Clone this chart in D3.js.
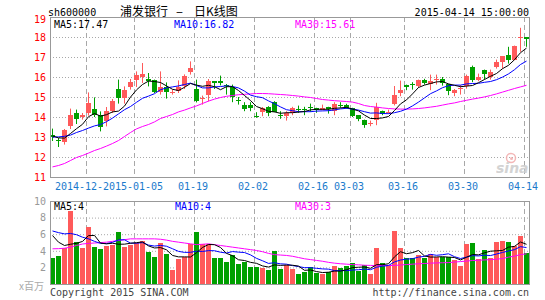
<!DOCTYPE html>
<html><head><meta charset="utf-8">
<script src="https://cdn.jsdelivr.net/npm/d3@7"></script>
<style>body{margin:0;background:#fff}svg{display:block}</style>
</head><body>
<svg id="c" width="545" height="300"></svg>
<script>
const dates = ["2014-12-12","2014-12-15","2014-12-16","2014-12-17","2014-12-18","2014-12-19","2014-12-22","2014-12-23","2014-12-24","2014-12-25","2014-12-26","2014-12-29","2014-12-30","2014-12-31","2015-01-05","2015-01-06","2015-01-07","2015-01-08","2015-01-09","2015-01-12","2015-01-13","2015-01-14","2015-01-15","2015-01-16","2015-01-19","2015-01-20","2015-01-21","2015-01-22","2015-01-23","2015-01-26","2015-01-27","2015-01-28","2015-01-29","2015-01-30","2015-02-02","2015-02-03","2015-02-04","2015-02-05","2015-02-06","2015-02-09","2015-02-10","2015-02-11","2015-02-12","2015-02-13","2015-02-16","2015-02-17","2015-02-25","2015-02-26","2015-02-27","2015-03-02","2015-03-03","2015-03-04","2015-03-05","2015-03-06","2015-03-09","2015-03-10","2015-03-11","2015-03-12","2015-03-13","2015-03-16","2015-03-17","2015-03-18","2015-03-19","2015-03-20","2015-03-23","2015-03-24","2015-03-25","2015-03-26","2015-03-27","2015-03-30","2015-03-31","2015-04-01","2015-04-02","2015-04-03","2015-04-07","2015-04-08","2015-04-09","2015-04-10","2015-04-13","2015-04-14"];
const open = [13.08,12.83,12.73,13.53,14.22,14.0,14.2,14.42,14.12,13.78,14.28,15.4,14.95,15.5,15.87,16.02,15.92,15.87,15.27,15.48,15.22,15.32,15.53,16.25,15.4,14.93,15.12,15.78,15.78,15.6,15.5,14.87,14.62,14.62,14.06,14.26,14.5,14.75,14.1,14.07,14.21,14.38,14.42,14.5,14.46,14.37,14.5,14.3,14.6,14.62,14.46,14.08,13.87,13.67,13.84,14.32,14.24,14.65,15.22,15.6,15.67,15.57,15.87,15.66,15.83,15.91,15.66,15.2,15.41,15.54,16.49,15.85,16.34,16.01,16.5,16.74,17.09,16.87,17.97,18.0];
const high = [13.42,12.95,13.4,14.42,14.37,14.2,15.23,14.98,14.28,14.5,14.9,15.87,15.53,15.9,16.28,16.7,16.2,15.87,16.28,15.73,15.37,15.83,16.13,16.78,15.87,15.07,15.9,15.8,16.07,15.65,15.62,15.0,14.74,14.74,14.24,14.5,14.54,14.79,14.29,14.29,14.51,14.57,14.51,14.67,14.46,14.62,14.51,14.74,14.74,14.66,14.46,14.09,13.87,13.82,14.71,14.32,14.37,15.55,15.82,15.62,15.74,15.87,15.91,16.12,16.12,16.0,15.66,15.4,15.59,16.12,16.57,16.17,16.37,16.37,16.87,17.04,17.51,17.57,18.46,18.0];
const low = [12.8,12.5,12.62,13.4,13.65,13.87,14.07,14.0,13.28,13.53,14.2,14.67,14.67,15.37,15.5,15.7,15.53,15.2,15.12,14.92,15.12,15.2,15.4,16.12,14.73,14.62,14.78,15.4,15.58,15.12,14.74,14.62,14.29,14.29,13.96,14.04,14.04,14.24,13.91,13.82,14.09,14.21,14.09,14.26,14.21,14.34,14.17,14.09,14.46,14.41,14.0,13.79,13.46,13.54,13.59,14.09,14.17,14.58,15.04,15.34,15.37,15.46,15.62,15.34,15.62,15.57,15.09,15.04,15.12,15.42,15.74,15.79,15.87,15.87,16.42,16.42,16.67,16.84,17.26,17.51];
const close = [13.02,12.8,13.33,14.12,13.92,14.12,14.72,14.12,13.48,14.28,14.78,14.95,15.37,15.73,16.08,16.13,15.78,15.27,15.48,15.23,15.27,15.5,16.05,16.45,14.82,14.97,15.78,15.7,15.68,15.55,15.0,14.83,14.42,14.45,14.03,14.46,14.2,14.26,14.08,14.2,14.46,14.36,14.4,14.48,14.34,14.47,14.38,14.65,14.57,14.46,14.04,13.92,13.62,13.7,14.49,14.17,14.27,15.12,15.35,15.5,15.65,15.87,15.71,15.79,15.9,15.71,15.3,15.37,15.44,16.04,15.84,16.0,16.17,16.24,16.74,17.04,16.87,17.54,18.0,17.88];
const volume = [3.17,3.37,4.37,8.83,5.06,4.34,6.87,4.46,4.22,4.62,4.7,6.27,4.5,4.74,4.98,5.14,3.9,3.25,4.98,3.65,1.73,3.05,3.25,4.86,6.27,4.86,4.86,3.17,3.15,2.69,3.49,2.41,2.69,2.09,2.09,1.93,1.69,3.98,1.81,2.29,1.81,1.2,1.45,2.01,1.33,1.2,1.4,2.17,1.97,2.17,2.49,1.61,2.29,1.2,4.34,2.49,2.17,6.43,4.34,3.13,3.13,3.49,3.13,3.61,3.25,3.25,3.25,2.89,2.17,4.82,4.98,3.01,4.1,3.13,5.06,5.18,5.02,4.54,5.78,3.7];
const ma5 = [13.08,12.98,12.97,13.2,13.44,13.66,14.04,14.2,14.07,14.14,14.28,14.32,14.57,15.02,15.38,15.65,15.82,15.8,15.75,15.58,15.41,15.35,15.51,15.7,15.62,15.56,15.61,15.54,15.39,15.54,15.54,15.35,15.1,14.85,14.55,14.44,14.31,14.28,14.21,14.24,14.24,14.27,14.3,14.38,14.41,14.41,14.41,14.46,14.48,14.51,14.42,14.33,14.12,13.95,13.95,13.98,14.05,14.35,14.68,14.88,15.18,15.5,15.62,15.7,15.78,15.8,15.68,15.61,15.54,15.57,15.6,15.74,15.9,16.06,16.2,16.44,16.61,16.89,17.24,17.47];
const ma10 = [13.02,13.03,13.06,13.12,13.25,13.35,13.47,13.58,13.65,13.79,13.97,14.18,14.39,14.55,14.76,14.96,15.07,15.19,15.39,15.48,15.53,15.58,15.65,15.72,15.6,15.48,15.48,15.53,15.55,15.58,15.55,15.48,15.32,15.12,15.04,14.99,14.83,14.69,14.53,14.39,14.34,14.29,14.29,14.29,14.32,14.33,14.34,14.38,14.43,14.46,14.42,14.37,14.29,14.22,14.23,14.2,14.19,14.24,14.31,14.42,14.58,14.77,14.98,15.19,15.33,15.49,15.59,15.62,15.62,15.68,15.7,15.71,15.76,15.8,15.89,16.02,16.18,16.39,16.65,16.82];
const ma30 = [11.53,11.6,11.7,11.85,12.0,12.1,12.22,12.35,12.45,12.57,12.7,12.85,13.05,13.25,13.43,13.55,13.65,13.78,13.95,14.05,14.15,14.28,14.37,14.48,14.58,14.7,14.82,14.92,15.0,15.06,15.1,15.14,15.16,15.18,15.2,15.2,15.19,15.17,15.15,15.13,15.1,15.07,15.03,15.0,14.95,14.9,14.87,14.84,14.82,14.8,14.77,14.7,14.6,14.55,14.52,14.48,14.45,14.43,14.42,14.42,14.43,14.45,14.48,14.52,14.56,14.62,14.68,14.73,14.8,14.86,14.92,14.97,15.03,15.1,15.18,15.27,15.36,15.45,15.53,15.61];
const volMa5 = [5.9,5.1,4.7,4.85,4.96,5.19,5.89,5.91,4.99,4.9,4.97,4.85,4.86,4.97,5.04,5.13,4.65,4.4,4.45,4.18,3.5,3.33,3.33,3.31,3.83,4.46,4.82,4.8,4.46,3.75,3.47,2.98,2.89,2.67,2.55,2.24,2.1,2.36,2.3,2.34,2.32,2.22,1.71,1.75,1.56,1.44,1.48,1.62,1.61,1.78,2.04,2.08,2.11,1.95,2.39,2.39,2.5,3.33,3.95,3.71,3.84,4.1,3.44,3.3,3.32,3.35,3.3,3.25,2.96,3.28,3.62,3.57,3.82,4.01,4.06,4.1,4.5,4.59,5.12,4.84];
const volMa10 = [6.45,6.25,6.1,6.15,6.0,5.7,5.5,5.2,4.95,4.93,5.08,5.37,5.39,4.98,4.97,5.05,4.75,4.63,4.71,4.61,4.31,3.99,3.87,3.88,4.01,3.98,4.08,4.07,3.89,3.79,3.97,3.9,3.85,3.57,3.15,2.86,2.54,2.62,2.49,2.45,2.28,2.16,2.03,2.03,1.95,1.88,1.85,1.67,1.68,1.67,1.74,1.78,1.86,1.78,2.08,2.21,2.29,2.72,2.95,3.05,3.11,3.3,3.39,3.63,3.52,3.59,3.7,3.35,3.13,3.3,3.48,3.44,3.53,3.49,3.67,3.86,4.04,4.2,4.56,4.45];
const volMa30 = [4.3,4.32,4.37,4.5,4.7,4.88,4.95,5.0,5.05,5.1,5.2,5.3,5.4,5.5,5.5,5.5,5.5,5.5,5.45,5.35,5.2,5.1,5.0,4.9,4.8,4.85,4.9,4.8,4.7,4.6,4.5,4.4,4.3,4.2,4.1,3.95,3.75,3.6,3.55,3.5,3.4,3.25,3.1,3.0,2.9,2.8,2.67,2.57,2.5,2.45,2.4,2.37,2.32,2.3,2.28,2.27,2.28,2.3,2.35,2.4,2.45,2.5,2.53,2.57,2.6,2.62,2.64,2.7,2.76,2.82,2.89,2.92,2.96,3.0,3.05,3.12,3.3,3.42,3.6,3.7];
const priceTicks = [11,12,13,14,15,16,17,18,19];
const volTicks = [2,4,6,8,10];
const tickDates = ["2014-12-22","2015-01-05","2015-01-19","2015-02-02","2015-02-16","2015-03-03","2015-03-16","2015-03-30","2015-04-14"];
const tickLabels = ["2014-12-22","2015-01-05","01-19","02-02","02-16","03-03","03-16","03-30","04-14"];
const symbol = "sh600000";
const titleParts = ["浦发银行", "–", "日K线图"];
const stamp = "2015-04-14 15:00:00";

const svg = d3.select("#c");
const MONO = "'DejaVu Sans Mono', monospace";
const CJK = "'Noto Sans CJK SC', sans-serif";
const UP = "#ff5a5a", DOWN = "#00a000";
const GRID = "#a8a8a8", BORDER = "#999";
const L = 50, R = 529;

const x = d3.scaleBand().domain(dates).range([49.5, 529.5]);
const y = d3.scaleLinear().domain([11, 19]).range([177, 17]);
const vy = d3.scaleLinear().domain([0, 10]).range([284, 201]);
const cx = d => x(d) + 3;
const isUp = i => close[i] >= open[i];

// horizontal dotted grids
svg.append("g").selectAll("line").data(priceTicks.filter(v => v > 11 && v < 19)).join("line")
  .attr("x1", L).attr("x2", R).attr("y1", d => y(d) + 0.5).attr("y2", d => y(d) + 0.5)
  .attr("stroke", GRID).attr("stroke-dasharray", "1,2");
svg.append("g").selectAll("line").data(volTicks.filter(v => v < 10)).join("line")
  .attr("x1", L).attr("x2", R).attr("y1", d => vy(d) + 0.5).attr("y2", d => vy(d) + 0.5)
  .attr("stroke", GRID).attr("stroke-dasharray", "1,2");
// vertical dashed grids
const vg = svg.append("g");
vg.selectAll("line.m").data(tickDates).join("line").attr("class", "m")
  .attr("x1", d => x(d) + 1).attr("x2", d => x(d) + 1).attr("y1", y(19)).attr("y2", y(11))
  .attr("stroke", GRID).attr("stroke-dasharray", "5,3");
vg.selectAll("line.v").data(tickDates).join("line").attr("class", "v")
  .attr("x1", d => x(d) + 1).attr("x2", d => x(d) + 1).attr("y1", vy(10)).attr("y2", vy(0))
  .attr("stroke", GRID).attr("stroke-dasharray", "5,3");

// sina watermark
const wm = svg.append("g").attr("opacity", 0.9);
wm.append("circle").attr("cx", 511).attr("cy", 158).attr("r", 4.5).attr("fill", "none").attr("stroke", "#f3b0b0").attr("stroke-width", 1.5);
wm.append("circle").attr("cx", 511.5).attr("cy", 158.5).attr("r", 1.5).attr("fill", "#f3b0b0");
wm.append("text").attr("x", 496).attr("y", 173).text("sina")
  .attr("font-family", "'DejaVu Sans', sans-serif").attr("font-size", 14).attr("font-weight", "bold")
  .attr("font-style", "italic").attr("fill", "#cfcfcf");

// candles
const idx = d3.range(dates.length);
const cg = svg.append("g");
cg.selectAll("line").data(idx).join("line")
  .attr("x1", i => cx(dates[i])).attr("x2", i => cx(dates[i]))
  .attr("y1", i => y(high[i])).attr("y2", i => y(low[i]))
  .attr("stroke", i => isUp(i) ? UP : DOWN);
cg.selectAll("rect").data(idx).join("rect")
  .attr("x", i => x(dates[i]) + 0.5).attr("width", 5)
  .attr("y", i => Math.round(y(Math.max(open[i], close[i]))))
  .attr("height", i => Math.max(1, Math.round(y(Math.min(open[i], close[i]))) - Math.round(y(Math.max(open[i], close[i])))))
  .attr("fill", i => isUp(i) ? UP : DOWN);

// volume bars
svg.append("g").selectAll("rect").data(idx).join("rect")
  .attr("x", i => x(dates[i]) + 0.5).attr("width", 5)
  .attr("y", i => Math.round(vy(volume[i]))).attr("height", i => vy(0) - Math.round(vy(volume[i])))
  .attr("fill", i => isUp(i) ? UP : DOWN);

// MA lines
function maLine(arr, sc, color) {
  svg.append("path").datum(idx)
    .attr("d", d3.line().x(i => cx(dates[i])).y(i => sc(arr[i]) + 0.5))
    .attr("fill", "none").attr("stroke", color).attr("stroke-width", 1);
}
maLine(ma30, y, "#ff00ff"); maLine(ma10, y, "#0000ff"); maLine(ma5, y, "#000");
maLine(volMa30, vy, "#ff00ff"); maLine(volMa10, vy, "#0000ff"); maLine(volMa5, vy, "#000");

// borders
svg.append("rect").attr("x", L + 0.5).attr("y", y(19) + 0.5).attr("width", R - L).attr("height", y(11) - y(19))
  .attr("fill", "none").attr("stroke", BORDER);
svg.append("rect").attr("x", L + 0.5).attr("y", vy(10) + 0.5).attr("width", R - L).attr("height", vy(0) - vy(10))
  .attr("fill", "none").attr("stroke", BORDER);

// axes
const pa = svg.append("g").attr("transform", "translate(46,0)")
  .call(d3.axisLeft(y).tickValues(priceTicks).tickSize(0).tickPadding(0).tickFormat(d3.format("d")));
pa.select(".domain").remove();
pa.selectAll("text").attr("fill", "#ff0000").attr("font-family", MONO).attr("font-size", 10)
  .filter(d => d === 19).attr("dy", "0.55em");
const va = svg.append("g").attr("transform", "translate(46,0)")
  .call(d3.axisLeft(vy).tickValues(volTicks).tickSize(0).tickPadding(0).tickFormat(d3.format("d")));
va.select(".domain").remove();
va.selectAll("text").attr("fill", "#999").attr("font-family", MONO).attr("font-size", 10);
const da = svg.append("g").attr("transform", "translate(-3.5,182.4)")
  .call(d3.axisBottom(x).tickValues(tickDates).tickSize(0).tickPadding(0)
    .tickFormat((d, i) => tickLabels[i]));
da.select(".domain").remove();
da.selectAll("text").attr("fill", "#1a7acc").attr("font-family", MONO).attr("font-size", 10);
da.selectAll(".tick").each(function () {
  const t = d3.select(this).select("text");
  const b = t.node().getBBox();
  d3.select(this).insert("rect", "text").attr("x", b.x).attr("y", b.y).attr("width", b.width).attr("height", b.height).attr("fill", "#fff");
});

// texts
function txt(s, px, py, color, anchor, size, fam) {
  return svg.append("text").attr("x", px).attr("y", py).text(s).attr("fill", color)
    .attr("text-anchor", anchor || "start").attr("font-size", size || 10).attr("font-family", fam || MONO);
}
const last = dates.length - 1;
txt(symbol, 48, 15.5, "#000");
const tt = svg.append("text").attr("y", 15.5).attr("font-size", 12).attr("font-family", CJK).attr("fill", "#000");
tt.append("tspan").attr("x", 120).text(titleParts[0]);
tt.append("tspan").attr("x", 176).attr("font-size", 13).text(titleParts[1]);
tt.append("tspan").attr("x", 194).text(titleParts[2]);
txt(stamp, 529, 15.5, "#000", "end");
txt("MA5:" + ma5[last].toFixed(2), 54, 28, "#000");
txt("MA10:" + ma10[last].toFixed(2), 174, 28, "#0000ff");
txt("MA30:" + ma30[last].toFixed(2), 295, 28, "#ff00ff");
txt("MA5:" + Math.floor(volMa5[last]), 54, 209.5, "#000");
txt("MA10:" + Math.floor(volMa10[last]), 175, 209.5, "#0000ff");
txt("MA30:" + Math.floor(volMa30[last]), 295, 209.5, "#ff00ff");
txt("x百万", 44, 290, "#aaa", "end", 10, CJK);
txt("Copyright 2015 SINA.COM", 50, 295.5, "#444");
txt("http://finance.sina.com.cn", 529, 295.5, "#444", "end");
</script>
</body></html>
